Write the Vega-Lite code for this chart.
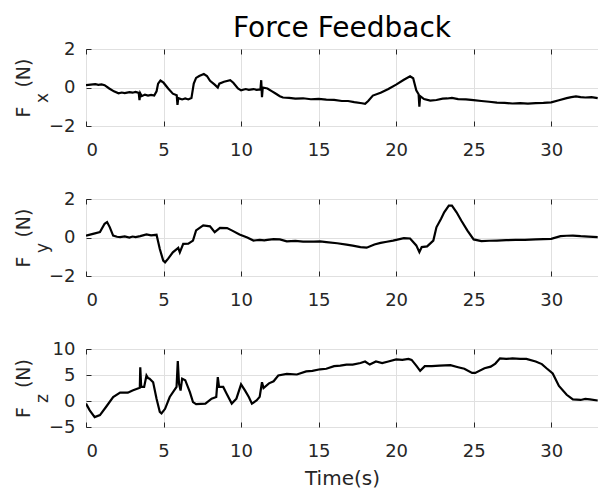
{
  "$schema": "https://vega.github.io/schema/vega-lite/v6.json",
  "padding": {"left": 13, "top": 14, "right": 0, "bottom": 5},
  "datasets": {
    "fx": [
      {"t":0,"v":0.12},{"t":0.3,"v":0.15},{"t":0.6,"v":0.17},{"t":0.8,"v":0.14},{"t":1.0,"v":0.16},{"t":1.2,"v":0.12},{"t":1.5,"v":-0.05},{"t":1.8,"v":-0.2},{"t":2.1,"v":-0.3},{"t":2.3,"v":-0.26},{"t":2.5,"v":-0.29},{"t":2.8,"v":-0.24},{"t":3.0,"v":-0.27},{"t":3.2,"v":-0.23},{"t":3.4,"v":-0.28},{"t":3.45,"v":-0.65},{"t":3.5,"v":-0.3},{"t":3.6,"v":-0.45},{"t":3.8,"v":-0.37},{"t":4.0,"v":-0.42},{"t":4.2,"v":-0.38},{"t":4.4,"v":-0.42},{"t":4.55,"v":-0.2},{"t":4.65,"v":0.2},{"t":4.8,"v":0.36},{"t":5.0,"v":0.25},{"t":5.3,"v":-0.05},{"t":5.6,"v":-0.32},{"t":5.85,"v":-0.4},{"t":5.9,"v":-0.9},{"t":5.95,"v":-0.55},{"t":6.2,"v":-0.62},{"t":6.4,"v":-0.57},{"t":6.6,"v":-0.62},{"t":6.8,"v":-0.55},{"t":6.95,"v":0.2},{"t":7.1,"v":0.5},{"t":7.3,"v":0.6},{"t":7.6,"v":0.7},{"t":7.8,"v":0.6},{"t":8.0,"v":0.35},{"t":8.3,"v":0.15},{"t":8.5,"v":0.0},{"t":8.6,"v":0.2},{"t":8.9,"v":0.3},{"t":9.3,"v":0.38},{"t":9.5,"v":0.25},{"t":9.8,"v":-0.05},{"t":10.0,"v":-0.15},{"t":10.3,"v":-0.08},{"t":10.5,"v":-0.12},{"t":10.8,"v":-0.08},{"t":11.0,"v":-0.12},{"t":11.25,"v":-0.1},{"t":11.3,"v":0.38},{"t":11.35,"v":-0.5},{"t":11.4,"v":0.0},{"t":11.7,"v":-0.05},{"t":12.0,"v":-0.2},{"t":12.2,"v":-0.3},{"t":12.5,"v":-0.45},{"t":12.7,"v":-0.52},{"t":13.1,"v":-0.54},{"t":13.5,"v":-0.58},{"t":14.0,"v":-0.56},{"t":14.5,"v":-0.61},{"t":15.0,"v":-0.59},{"t":15.5,"v":-0.63},{"t":16.0,"v":-0.64},{"t":16.5,"v":-0.7},{"t":16.9,"v":-0.7},{"t":17.3,"v":-0.76},{"t":17.8,"v":-0.82},{"t":18.0,"v":-0.85},{"t":18.2,"v":-0.7},{"t":18.5,"v":-0.42},{"t":19.0,"v":-0.27},{"t":19.5,"v":-0.08},{"t":20.0,"v":0.15},{"t":20.5,"v":0.4},{"t":20.9,"v":0.58},{"t":21.1,"v":0.48},{"t":21.3,"v":-0.15},{"t":21.45,"v":-0.35},{"t":21.5,"v":-1.0},{"t":21.55,"v":-0.45},{"t":21.8,"v":-0.6},{"t":22.2,"v":-0.68},{"t":22.6,"v":-0.65},{"t":23.0,"v":-0.58},{"t":23.3,"v":-0.57},{"t":23.6,"v":-0.54},{"t":24.0,"v":-0.6},{"t":24.5,"v":-0.62},{"t":25.0,"v":-0.66},{"t":25.5,"v":-0.7},{"t":26.0,"v":-0.74},{"t":26.5,"v":-0.79},{"t":27.0,"v":-0.8},{"t":27.5,"v":-0.83},{"t":28.0,"v":-0.81},{"t":28.5,"v":-0.84},{"t":29.0,"v":-0.81},{"t":29.5,"v":-0.8},{"t":30.0,"v":-0.77},{"t":30.5,"v":-0.66},{"t":31.0,"v":-0.55},{"t":31.3,"v":-0.5},{"t":31.6,"v":-0.46},{"t":31.9,"v":-0.5},{"t":32.2,"v":-0.52},{"t":32.6,"v":-0.5},{"t":33.0,"v":-0.55}
    ],
    "fy": [
      {"t":0,"v":0.1},{"t":0.45,"v":0.19},{"t":0.9,"v":0.28},{"t":1.2,"v":0.71},{"t":1.36,"v":0.8},{"t":1.53,"v":0.54},{"t":1.75,"v":0.1},{"t":2.0,"v":0.04},{"t":2.2,"v":0.02},{"t":2.5,"v":0.06},{"t":2.8,"v":0.0},{"t":3.0,"v":0.05},{"t":3.2,"v":0.02},{"t":3.5,"v":0.07},{"t":3.9,"v":0.16},{"t":4.2,"v":0.11},{"t":4.55,"v":0.14},{"t":4.76,"v":-0.6},{"t":4.98,"v":-1.2},{"t":5.1,"v":-1.29},{"t":5.3,"v":-1.1},{"t":5.6,"v":-0.77},{"t":5.95,"v":-0.54},{"t":6.05,"v":-0.77},{"t":6.27,"v":-0.33},{"t":6.6,"v":-0.32},{"t":6.9,"v":-0.16},{"t":7.1,"v":0.37},{"t":7.56,"v":0.63},{"t":8.0,"v":0.58},{"t":8.3,"v":0.28},{"t":8.64,"v":0.5},{"t":9.1,"v":0.49},{"t":9.4,"v":0.37},{"t":9.9,"v":0.16},{"t":10.4,"v":0.0},{"t":10.8,"v":-0.16},{"t":11.2,"v":-0.12},{"t":11.5,"v":-0.15},{"t":11.7,"v":-0.12},{"t":12.1,"v":-0.08},{"t":12.5,"v":-0.1},{"t":12.95,"v":-0.2},{"t":13.5,"v":-0.18},{"t":14.0,"v":-0.21},{"t":14.7,"v":-0.21},{"t":15.1,"v":-0.2},{"t":15.5,"v":-0.24},{"t":16.2,"v":-0.3},{"t":16.8,"v":-0.37},{"t":17.2,"v":-0.42},{"t":17.7,"v":-0.5},{"t":18.1,"v":-0.53},{"t":18.6,"v":-0.36},{"t":19.0,"v":-0.28},{"t":19.4,"v":-0.22},{"t":19.8,"v":-0.16},{"t":20.5,"v":-0.03},{"t":20.9,"v":-0.05},{"t":21.3,"v":-0.41},{"t":21.5,"v":-0.76},{"t":21.65,"v":-0.5},{"t":22.0,"v":-0.46},{"t":22.4,"v":-0.16},{"t":22.6,"v":0.53},{"t":22.9,"v":0.97},{"t":23.1,"v":1.31},{"t":23.4,"v":1.66},{"t":23.6,"v":1.66},{"t":23.9,"v":1.31},{"t":24.2,"v":0.88},{"t":24.6,"v":0.36},{"t":25.0,"v":-0.1},{"t":25.5,"v":-0.19},{"t":26.0,"v":-0.17},{"t":26.5,"v":-0.16},{"t":27.1,"v":-0.14},{"t":27.7,"v":-0.12},{"t":28.3,"v":-0.12},{"t":29.0,"v":-0.1},{"t":29.5,"v":-0.08},{"t":30.0,"v":-0.07},{"t":30.6,"v":0.07},{"t":31.0,"v":0.09},{"t":31.4,"v":0.1},{"t":31.9,"v":0.07},{"t":32.4,"v":0.05},{"t":33.0,"v":0.02}
    ],
    "fz": [
      {"t":0,"v":-0.5},{"t":0.24,"v":-1.8},{"t":0.56,"v":-3.1},{"t":0.9,"v":-2.7},{"t":1.3,"v":-1.1},{"t":1.75,"v":0.77},{"t":2.2,"v":1.6},{"t":2.7,"v":1.6},{"t":3.0,"v":2.04},{"t":3.47,"v":2.55},{"t":3.5,"v":6.5},{"t":3.56,"v":2.7},{"t":3.75,"v":2.7},{"t":3.9,"v":4.9},{"t":4.0,"v":4.4},{"t":4.1,"v":4.3},{"t":4.33,"v":3.6},{"t":4.55,"v":0.45},{"t":4.76,"v":-2.1},{"t":4.87,"v":-2.4},{"t":5.1,"v":-1.5},{"t":5.4,"v":0.77},{"t":5.84,"v":2.7},{"t":5.92,"v":7.7},{"t":6.0,"v":3.3},{"t":6.1,"v":2.0},{"t":6.2,"v":4.3},{"t":6.4,"v":4.0},{"t":6.7,"v":1.7},{"t":6.9,"v":-0.2},{"t":7.1,"v":-0.6},{"t":7.7,"v":-0.5},{"t":8.1,"v":0.45},{"t":8.4,"v":0.77},{"t":8.5,"v":4.6},{"t":8.58,"v":2.7},{"t":8.85,"v":2.7},{"t":9.07,"v":1.4},{"t":9.4,"v":-0.5},{"t":9.7,"v":0.45},{"t":10.0,"v":3.2},{"t":10.26,"v":2.0},{"t":10.5,"v":0.77},{"t":10.7,"v":-0.5},{"t":11.0,"v":0.1},{"t":11.2,"v":0.8},{"t":11.35,"v":3.6},{"t":11.45,"v":2.5},{"t":11.8,"v":3.4},{"t":12.1,"v":3.8},{"t":12.4,"v":4.9},{"t":12.95,"v":5.2},{"t":13.6,"v":5.1},{"t":14.2,"v":5.7},{"t":14.6,"v":5.8},{"t":15.1,"v":6.1},{"t":15.5,"v":6.2},{"t":16.0,"v":6.7},{"t":16.4,"v":6.8},{"t":16.8,"v":7.0},{"t":17.2,"v":7.0},{"t":17.7,"v":7.3},{"t":18.0,"v":7.6},{"t":18.3,"v":7.0},{"t":18.7,"v":7.6},{"t":19.1,"v":7.3},{"t":19.5,"v":7.6},{"t":20.0,"v":8.0},{"t":20.4,"v":7.9},{"t":20.8,"v":8.1},{"t":21.0,"v":7.9},{"t":21.3,"v":6.8},{"t":21.55,"v":5.8},{"t":21.85,"v":6.7},{"t":22.3,"v":6.7},{"t":22.8,"v":6.8},{"t":23.5,"v":6.9},{"t":24.0,"v":6.5},{"t":24.4,"v":6.2},{"t":24.9,"v":5.4},{"t":25.1,"v":5.4},{"t":25.7,"v":6.3},{"t":26.1,"v":6.6},{"t":26.4,"v":7.2},{"t":26.7,"v":8.2},{"t":27.1,"v":8.1},{"t":27.5,"v":8.2},{"t":28.0,"v":8.1},{"t":28.4,"v":8.1},{"t":29.0,"v":7.6},{"t":29.4,"v":7.1},{"t":29.7,"v":6.3},{"t":30.1,"v":5.3},{"t":30.5,"v":2.9},{"t":31.0,"v":1.2},{"t":31.4,"v":0.3},{"t":31.9,"v":0.2},{"t":32.2,"v":0.4},{"t":32.5,"v":0.3},{"t":33.0,"v":0.1}
    ]
  },
  "spacing": 29,
  "vconcat": [
    {
      "title": {"text": "Force Feedback", "frame": "group", "anchor": "middle", "fontSize": 28, "font": "DejaVu Sans", "fontWeight": "normal", "color": "#000000", "offset": -3},
      "width": 512, "height": 77,
      "data": {"name": "fx"},
      "layer": [
        {
          "mark": {"type": "line", "color": "#000000", "strokeWidth": 2.2, "clip": true},
          "encoding": {
            "x": {"field": "t", "type": "quantitative", "scale": {"domain": [0, 33.02], "nice": false, "zero": false},
                  "axis": {"values": [0, 5, 10, 15, 20, 25, 30], "title": null, "grid": true, "labelPadding": 20}},
            "y": {"field": "v", "type": "quantitative", "scale": {"domain": [-2, 2], "nice": false},
                  "axis": {"values": [-2, 0, 2], "grid": true, "title": "F\u2003(N)", "titleX": -57, "titleBaseline": "alphabetic", "titleFontSize": 19, "labelPadding": 16}}
          }
        },
        {
          "mark": {"type": "line", "opacity": 0},
          "encoding": {
            "x": {"field": "t", "type": "quantitative", "axis": {"orient": "top", "values": [0, 5, 10, 15, 20, 25, 30], "labels": false, "grid": false, "title": null}},
            "y": {"field": "v", "type": "quantitative", "axis": {"orient": "left", "labels": false, "ticks": false, "grid": false, "title": "x", "titleFontSize": 17, "titleX": -39, "titleY": 48.5, "titleAngle": 270, "titleAlign": "center", "titleBaseline": "alphabetic"}}
          }
        }
      ],
      "resolve": {"axis": {"x": "independent", "y": "independent"}}
    },
    {
      "width": 512, "height": 77,
      "data": {"name": "fy"},
      "layer": [
        {
          "mark": {"type": "line", "color": "#000000", "strokeWidth": 2.2, "clip": true},
          "encoding": {
            "x": {"field": "t", "type": "quantitative", "scale": {"domain": [0, 33.02], "nice": false, "zero": false},
                  "axis": {"values": [0, 5, 10, 15, 20, 25, 30], "title": null, "grid": true, "labelPadding": 20}},
            "y": {"field": "v", "type": "quantitative", "scale": {"domain": [-2, 2], "nice": false},
                  "axis": {"values": [-2, 0, 2], "grid": true, "title": "F\u2003(N)", "titleX": -57, "titleBaseline": "alphabetic", "titleFontSize": 19, "labelPadding": 16}}
          }
        },
        {
          "mark": {"type": "line", "opacity": 0},
          "encoding": {
            "x": {"field": "t", "type": "quantitative", "axis": {"orient": "top", "values": [0, 5, 10, 15, 20, 25, 30], "labels": false, "grid": false, "title": null}},
            "y": {"field": "v", "type": "quantitative", "axis": {"orient": "left", "labels": false, "ticks": false, "grid": false, "title": "y", "titleFontSize": 17, "titleX": -39, "titleY": 48.5, "titleAngle": 270, "titleAlign": "center", "titleBaseline": "alphabetic"}}
          }
        }
      ],
      "resolve": {"axis": {"x": "independent", "y": "independent"}}
    },
    {
      "width": 512, "height": 78,
      "data": {"name": "fz"},
      "layer": [
        {
          "mark": {"type": "line", "color": "#000000", "strokeWidth": 2.2, "clip": true},
          "encoding": {
            "x": {"field": "t", "type": "quantitative", "scale": {"domain": [0, 33.02], "nice": false, "zero": false},
                  "axis": {"values": [0, 5, 10, 15, 20, 25, 30], "title": "Time(s)", "titleFontSize": 20, "titlePadding": 8, "grid": true, "labelPadding": 20}},
            "y": {"field": "v", "type": "quantitative", "scale": {"domain": [-5, 10], "nice": false},
                  "axis": {"values": [-5, 0, 5, 10], "grid": true, "title": "F\u2003(N)", "titleX": -57, "titleBaseline": "alphabetic", "titleFontSize": 19, "labelPadding": 16}}
          }
        },
        {
          "mark": {"type": "line", "opacity": 0},
          "encoding": {
            "x": {"field": "t", "type": "quantitative", "axis": {"orient": "top", "values": [0, 5, 10, 15, 20, 25, 30], "labels": false, "grid": false, "title": null}},
            "y": {"field": "v", "type": "quantitative", "axis": {"orient": "left", "labels": false, "ticks": false, "grid": false, "title": "z", "titleFontSize": 17, "titleX": -39, "titleY": 49, "titleAngle": 270, "titleAlign": "center", "titleBaseline": "alphabetic"}}
          }
        }
      ],
      "resolve": {"axis": {"x": "independent", "y": "independent"}}
    }
  ],
  "config": {
    "view": {"stroke": "#262626", "strokeWidth": 1},
    "axis": {
      "labelFont": "DejaVu Sans", "labelFontSize": 18, "labelColor": "#262626",
      "titleFont": "DejaVu Sans", "titleFontWeight": "normal", "titleColor": "#262626",
      "gridColor": "#e0e0e0", "gridWidth": 1, "domain": false,
      "tickColor": "#262626", "tickSize": -5, "tickWidth": 1
    }
  }
}
